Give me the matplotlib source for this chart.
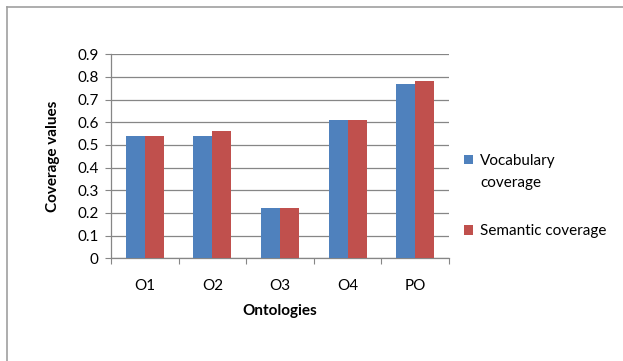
import matplotlib
matplotlib.use("Agg")
import matplotlib.pyplot as plt
from matplotlib.lines import Line2D
import numpy as np

categories = ["O1", "O2", "O3", "O4", "PO"]
vocabulary = [0.54, 0.54, 0.22, 0.61, 0.77]
semantic = [0.54, 0.56, 0.22, 0.61, 0.78]
yticks = [0, 0.1, 0.2, 0.3, 0.4, 0.5, 0.6, 0.7, 0.8, 0.9]
ytick_labels = ["0", "0.1", "0.2", "0.3", "0.4", "0.5", "0.6", "0.7", "0.8", "0.9"]

plt.rcParams['font.family'] = ['Lato', 'DejaVu Sans']

fig = plt.figure(figsize=(6.23, 3.61), dpi=100)
ax = fig.add_axes([0.1782, 0.2845, 0.7207 - 0.1782, 0.8496 - 0.2845])

x = np.arange(len(categories))
w = 0.28
blue = "#4F81BD"
red = "#C0504D"
fs = 11
b1 = ax.bar(x - w / 2, vocabulary, w, color=blue, label="Vocabulary", zorder=3)
b2 = ax.bar(x + w / 2, semantic, w, color=red, label="Semantic coverage", zorder=3)

ax.set_xlim(-0.5, len(categories) - 0.5)
ax.set_ylim(0, 0.9)
ax.set_yticks(yticks)
ax.set_yticklabels(ytick_labels, fontsize=fs)
ax.yaxis.grid(True, color="#868686", linewidth=0.9, zorder=0)
ax.set_axisbelow(True)

ax.set_xticks(np.arange(-0.5, len(categories), 1.0))
ax.set_xticklabels([])
ax.set_xticks(x, minor=True)
ax.set_xticklabels(categories, minor=True, fontsize=fs)
ax.tick_params(axis="x", which="major", length=4, color="#868686", direction="out")
ax.tick_params(axis="x", which="minor", length=0, pad=15)
ax.tick_params(axis="y", length=4, color="#868686", direction="out", pad=5)

for s in ["top", "right"]:
    ax.spines[s].set_visible(False)
for s in ["left", "bottom"]:
    ax.spines[s].set_color("#868686")
    ax.spines[s].set_linewidth(0.9)

ax.set_xlabel("Ontologies", fontsize=fs, fontweight="bold", labelpad=8)
ax.set_ylabel("Coverage values", fontsize=fs, fontweight="bold", labelpad=12)

leg = fig.legend(handles=[b1, b2], loc="center left", bbox_to_anchor=(0.722, 1 - 196 / 361),
                 frameon=False, fontsize=fs, handlelength=0.6, handleheight=0.6,
                 handletextpad=0.5, labelspacing=3.7)

fig.canvas.draw()
bb = leg.get_texts()[0].get_window_extent()
inv = fig.transFigure.inverted()
x0, y0 = inv.transform((bb.x0, bb.y0))
fig.text(x0, y0 - 22 / 361, "coverage", fontsize=fs, ha="left", va="bottom")

# outer frame lines (top and left)
fig.add_artist(Line2D([7 / 623, 1.0], [1 - 7 / 361, 1 - 7 / 361], color="#A0A0A0", linewidth=1.2,
                      transform=fig.transFigure))
fig.add_artist(Line2D([7 / 623, 7 / 623], [0.0, 1 - 7 / 361], color="#A0A0A0", linewidth=1.2,
                      transform=fig.transFigure))

fig.savefig("out.png", dpi=100)
